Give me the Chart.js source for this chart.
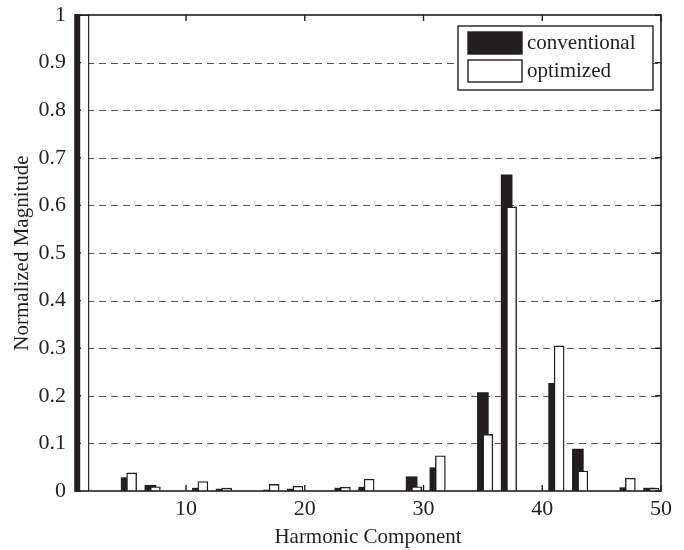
<!DOCTYPE html>
<html><head><meta charset="utf-8">
<script src="https://cdn.jsdelivr.net/npm/chart.js@4.4.0/dist/chart.umd.min.js"></script>
<style>html,body{margin:0;padding:0;background:#fff;} #wrap{width:684px;height:550px;position:relative;}</style>
</head><body><div id="wrap"><canvas id="c"></canvas></div>
<script>
// ---- data ----
const harmonics = [1, 5, 7, 11, 13, 17, 19, 23, 25, 29, 31, 35, 37, 41, 43, 47, 49];
const conventional = [1.0, 0.028, 0.012, 0.006, 0.004, 0.002, 0.004, 0.006, 0.008, 0.030, 0.049, 0.207, 0.664, 0.226, 0.088, 0.007, 0.006];
const optimized = [1.0, 0.038, 0.009, 0.020, 0.006, 0.014, 0.010, 0.008, 0.025, 0.009, 0.074, 0.119, 0.597, 0.305, 0.042, 0.027, 0.006];
const seriesNames = ['conventional', 'optimized'];
const xTickValues = [10, 20, 30, 40, 50];
const yTickValues = [0, 0.1, 0.2, 0.3, 0.4, 0.5, 0.6, 0.7, 0.8, 0.9, 1];
const xTitle = 'Harmonic Component';
const yTitle = 'Normalized Magnitude';

// ---- style ----
const INK = '#231f20';
const FONT = "'Liberation Serif', 'DejaVu Serif', serif";
const FS = 21;
const X_MIN = 0.65, X_MAX = 50;
const WHITE_SHIFT = 0.42;

const framePlugin = {
  id: 'frame',
  beforeDatasetsDraw(chart) {
    const {ctx, chartArea: a, scales} = chart;
    const y = scales.y;
    ctx.save();
    ctx.strokeStyle = '#555';
    ctx.lineWidth = 1.2;
    ctx.setLineDash([7, 5]);
    yTickValues.forEach(v => {
      if (v <= 0 || v >= 1) return;
      const py = Math.round(y.getPixelForValue(v)) + 0.5;
      ctx.beginPath(); ctx.moveTo(a.left, py); ctx.lineTo(a.right, py); ctx.stroke();
    });
    ctx.restore();
  },
  afterDatasetsDraw(chart) {
    const {ctx, chartArea: a, scales} = chart;
    const x = scales.x, y = scales.y;
    ctx.save();
    ctx.strokeStyle = INK;
    ctx.lineWidth = 1.6;
    ctx.setLineDash([]);
    ctx.strokeRect(a.left, a.top, a.right - a.left, a.bottom - a.top);
    const TL = 6;
    ctx.lineWidth = 1.4;
    yTickValues.forEach(v => {
      const py = y.getPixelForValue(v);
      ctx.beginPath();
      ctx.moveTo(a.left, py); ctx.lineTo(a.left + TL, py);
      ctx.moveTo(a.right, py); ctx.lineTo(a.right - TL, py);
      ctx.stroke();
    });
    xTickValues.forEach(v => {
      const px = x.getPixelForValue(v);
      ctx.beginPath();
      ctx.moveTo(px, a.bottom); ctx.lineTo(px, a.bottom - TL);
      ctx.moveTo(px, a.top); ctx.lineTo(px, a.top + TL);
      ctx.stroke();
    });
    // legend
    const bx = a.right - 203, by = a.top + 11, bw = 195, bh = 64;
    ctx.fillStyle = '#fff';
    ctx.fillRect(bx, by, bw, bh);
    ctx.lineWidth = 1.4;
    ctx.strokeRect(bx, by, bw, bh);
    chart.data.datasets.forEach((ds, i) => {
      const sy = by + 6 + i * 28;
      ctx.fillStyle = ds.backgroundColor;
      ctx.fillRect(bx + 10, sy, 54, 22);
      ctx.strokeStyle = INK;
      ctx.lineWidth = 1.4;
      ctx.strokeRect(bx + 10, sy, 54, 22);
      ctx.fillStyle = INK;
      ctx.font = FS + 'px ' + FONT;
      ctx.textBaseline = 'middle';
      ctx.textAlign = 'left';
      ctx.fillText(ds.label, bx + 69, sy + 11);
    });
    ctx.restore();
  }
};

new Chart(document.getElementById('c'), {
  type: 'bar',
  data: {
    datasets: [
      {
        label: seriesNames[0],
        data: harmonics.map((h, i) => ({x: h, y: conventional[i]})),
        backgroundColor: INK,
        borderColor: INK,
        borderWidth: 0,
        barThickness: 11,
        grouped: false,
        xAxisID: 'x',
        order: 2
      },
      {
        label: seriesNames[1],
        data: harmonics.map((h, i) => ({x: h, y: optimized[i]})),
        backgroundColor: '#ffffff',
        borderColor: INK,
        borderWidth: 1.4,
        borderSkipped: 'bottom',
        barThickness: 10,
        grouped: false,
        xAxisID: 'x2',
        order: 1
      }
    ]
  },
  options: {
    responsive: true,
    maintainAspectRatio: false,
    animation: false,
    devicePixelRatio: 1,
    layout: {padding: {top: 15, right: 23, left: 0, bottom: 0}},
    plugins: {legend: {display: false}, tooltip: {enabled: false}},
    scales: {
      x: {
        type: 'linear', min: X_MIN, max: X_MAX, offset: false,
        afterBuildTicks(s) { s.ticks = xTickValues.map(v => ({value: v})); },
        afterFit(s) { s.height = 59; s.paddingLeft = 0; s.paddingRight = 0; },
        grid: {display: false, drawTicks: false, offset: false},
        border: {display: false},
        ticks: {color: INK, font: {family: FONT, size: 22}, padding: 5, maxRotation: 0, autoSkip: false},
        title: {display: true, text: xTitle, color: INK, font: {family: FONT, size: FS}, padding: {top: 0, bottom: 0}}
      },
      x2: {
        type: 'linear', display: false, offset: false,
        grid: {offset: false},
        min: X_MIN - WHITE_SHIFT, max: X_MAX - WHITE_SHIFT
      },
      y: {
        type: 'linear', min: 0, max: 1,
        afterBuildTicks(s) { s.ticks = yTickValues.map(v => ({value: v})); },
        afterFit(s) { s.width = 75; s.paddingTop = 0; s.paddingBottom = 0; },
        grid: {display: false, drawTicks: false},
        border: {display: false},
        ticks: {color: INK, font: {family: FONT, size: 22}, padding: 9, autoSkip: false,
          callback: v => String(Math.round(v * 10) / 10)},
        title: {display: true, text: yTitle, color: INK, font: {family: FONT, size: FS}, padding: {top: 10, bottom: 0}}
      }
    }
  },
  plugins: [framePlugin]
});
</script>
</body></html>
